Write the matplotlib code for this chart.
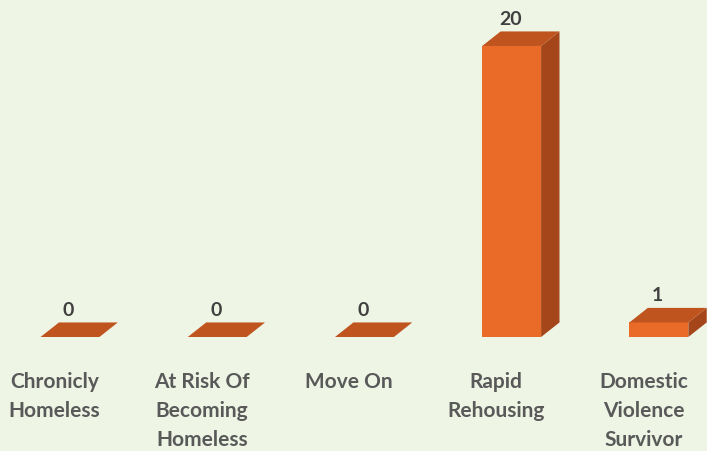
import matplotlib
matplotlib.use("Agg")
import matplotlib.pyplot as plt
from matplotlib.patches import Polygon

categories = ["Chronicly\nHomeless", "At Risk Of\nBecoming\nHomeless", "Move On",
              "Rapid\nRehousing", "Domestic\nViolence\nSurvivor"]
values = [0, 0, 0, 20, 1]

BG = "#EEF5E5"
FRONT = "#EA6A28"
SIDE = "#A4461A"
TOP = "#C0541F"
TEXT = "#595959"

fig = plt.figure(figsize=(7.07, 4.51), dpi=100, facecolor=BG)
ax = fig.add_axes([0, 0, 1, 1])
ax.set_facecolor(BG)
ax.set_xlim(-0.4755, 4.327)
ax.set_ylim(-7.835, 23.16)
ax.axis("off")

w = 0.40      # front width (category units)
dx = 0.125    # depth in x
dy = 1.0      # depth in value units

for i, v in enumerate(values):
    x0, x1 = i - w / 2, i + w / 2
    if v > 0:
        ax.add_patch(Polygon([(x0, 0), (x1, 0), (x1, v), (x0, v)],
                             closed=True, facecolor=FRONT, edgecolor="none"))
        ax.add_patch(Polygon([(x1, 0), (x1 + dx, dy), (x1 + dx, v + dy), (x1, v)],
                             closed=True, facecolor=SIDE, edgecolor="none"))
    ax.add_patch(Polygon([(x0, v), (x1, v), (x1 + dx, v + dy), (x0 + dx, v + dy)],
                         closed=True, facecolor=TOP, edgecolor="none"))
    ax.text(i - 0.01, v + dy + 0.85, str(v), ha="center", va="center",
            fontsize=14, fontweight="bold", color="#404040", family="Lato")
    ax.text(i - 0.105, -2.4, categories[i], ha="center", va="top",
            fontsize=15, fontweight="bold", color=TEXT, family="Lato",
            linespacing=1.55)

fig.savefig("out.png", dpi=100, facecolor=BG)
